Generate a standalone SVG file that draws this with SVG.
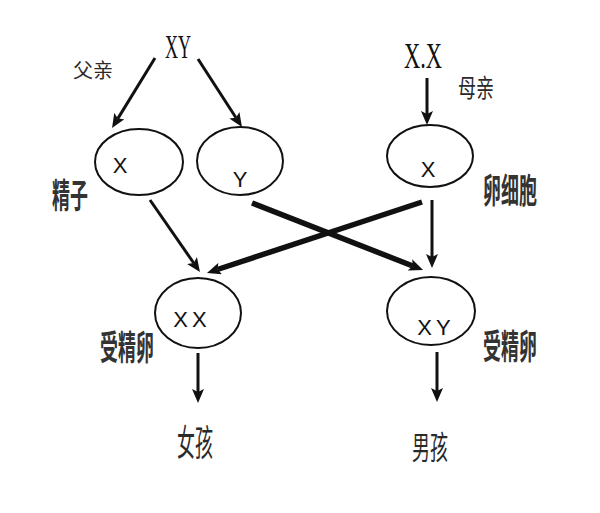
<svg xmlns="http://www.w3.org/2000/svg" width="600" height="513" viewBox="0 0 600 513">
<style>
.cell{fill:none;stroke:#111;stroke-width:2}
.lbl{font-family:"Noto Sans CJK SC","Noto Sans",sans-serif;fill:#333;text-anchor:middle;font-size:18px;font-weight:bold}
.lt{font-weight:normal;fill:#2a2a2a}
.gen{font-family:"Liberation Sans",Arial,sans-serif;fill:#111;font-size:22px;text-anchor:middle}
.par{font-family:"Liberation Serif","Times New Roman",serif;fill:#111;text-anchor:middle}
.thin{stroke:#111;stroke-width:3;fill:none}
.thick{stroke:#111;stroke-width:5.5;fill:none}
</style>
<defs>
<marker id="ah" markerUnits="userSpaceOnUse" markerWidth="15" markerHeight="12" refX="3" refY="6" orient="auto">
<path d="M0,0 L14,6 L0,12 L3,6 z" fill="#111"/>
</marker>
</defs>
<rect width="600" height="513" fill="#fff"/>
<g id="father">
<text class="par" x="178" y="58" font-size="34" textLength="26" lengthAdjust="spacingAndGlyphs">XY</text>
<text class="lbl lt" x="93" y="78" style="font-size:20px">父亲</text>
</g>
<g id="mother">
<text class="par" x="423" y="68" font-size="36" textLength="38" lengthAdjust="spacingAndGlyphs">X.X</text>
<text class="lbl lt" transform="translate(476,97) scale(1,1.4)">母亲</text>
</g>
<g id="sperm-x">
<ellipse class="cell" cx="139" cy="162" rx="44" ry="33"/>
<text class="gen" x="120" y="173">X</text>
</g>
<g id="sperm-y">
<ellipse class="cell" cx="240" cy="161" rx="43" ry="34"/>
<text class="gen" x="240" y="187">Y</text>
</g>
<g id="sperm-label">
<text class="lbl" transform="translate(70,208) scale(1,1.9)">精子</text>
</g>
<g id="egg">
<ellipse class="cell" cx="430" cy="156" rx="43" ry="31"/>
<text class="gen" x="428" y="177">X</text>
<text class="lbl" transform="translate(510,203) scale(1,1.9)">卵细胞</text>
</g>
<g id="zygote-xx">
<ellipse class="cell" cx="198" cy="313" rx="43" ry="35"/>
<text class="gen" x="192" y="327" letter-spacing="4">XX</text>
<text class="lbl" transform="translate(127,360) scale(1,1.9)">受精卵</text>
</g>
<g id="zygote-xy">
<ellipse class="cell" cx="431" cy="311" rx="44" ry="34"/>
<text class="gen" x="436" y="335" letter-spacing="4">XY</text>
<text class="lbl" transform="translate(510,359) scale(1,1.9)">受精卵</text>
</g>
<g id="girl">
<text class="lbl lt" transform="translate(195,456) scale(1,2)">女孩</text>
</g>
<g id="boy">
<text class="lbl lt" transform="translate(430,459) scale(1,1.75)">男孩</text>
</g>
<g id="connectors">
<line class="thin" x1="155" y1="58" x2="117.8" y2="118.6" marker-end="url(#ah)"/>
<line class="thin" x1="198" y1="59" x2="236" y2="117.8" marker-end="url(#ah)"/>
<line class="thin" x1="427" y1="78" x2="427" y2="114" marker-end="url(#ah)"/>
<line class="thin" x1="150" y1="200" x2="193.7" y2="263" marker-end="url(#ah)"/>
<line class="thick" x1="252" y1="203" x2="412.8" y2="266" marker-end="url(#ah)"/>
<line class="thick" x1="422" y1="202" x2="217.4" y2="269.5" marker-end="url(#ah)"/>
<line class="thin" x1="432" y1="200" x2="432" y2="257" marker-end="url(#ah)"/>
<line class="thin" x1="198" y1="353" x2="198" y2="392" marker-end="url(#ah)"/>
<line class="thin" x1="437" y1="352" x2="437" y2="391" marker-end="url(#ah)"/>
</g>
</svg>
